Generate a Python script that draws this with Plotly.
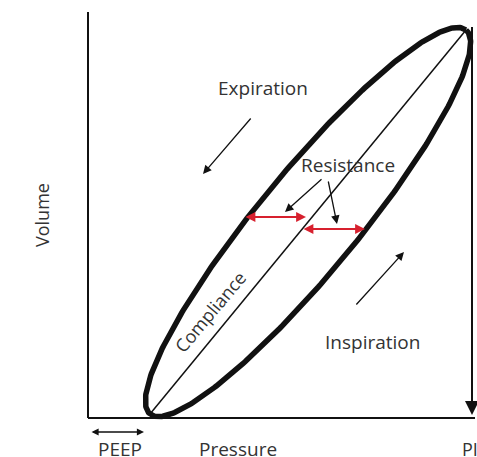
import numpy as np
import plotly.graph_objects as go

# ---- data (arbitrary pressure / volume units) ----
loop_pressure = [62, 378]      # PEEP end, PIP end of the loop
loop_volume = [4, 388]
loop_halfwidth = 50            # hysteresis (resistance) half-width of the loop

labels = ["Expiration", "Resistance", "Inspiration", "Pressure", "PEEP", "PIP"]
label_x = [175, 260, 284, 150, 32, 372]
label_y = [330, 253, 76, -31, -31, -31]

FONT = "Open Sans"
FS = 19
TXT = "#333333"
RED = "#d7202e"

# ---- loop geometry ----
p0 = np.array([loop_pressure[0], loop_volume[0]], float)
p1 = np.array([loop_pressure[1], loop_volume[1]], float)
c = (p0 + p1) / 2
d = p1 - p0
a = np.linalg.norm(d) / 2
u = d / np.linalg.norm(d)
n = np.array([-u[1], u[0]])
t = np.linspace(0, 2 * np.pi, 400)
ex = c[0] + a * np.cos(t) * u[0] + loop_halfwidth * np.sin(t) * n[0]
ey = c[1] + a * np.cos(t) * u[1] + loop_halfwidth * np.sin(t) * n[1]

fig = go.Figure()
fig.add_trace(go.Scatter(x=ex, y=ey, mode="lines",
                         line=dict(color="#111111", width=5.5), hoverinfo="skip"))
fig.add_trace(go.Scatter(x=loop_pressure, y=loop_volume, mode="lines",
                         line=dict(color="#111111", width=1.5), hoverinfo="skip"))

# axes and the PIP drop line
fig.add_shape(type="line", x0=0, y0=0, x1=0, y1=406, line=dict(color="#111111", width=2))
fig.add_shape(type="line", x0=0, y0=0, x1=387, y1=0, line=dict(color="#111111", width=2))
fig.add_shape(type="line", x0=384, y0=391, x1=384, y1=14, line=dict(color="#111111", width=2))

ann = []
for s, x, y in zip(labels, label_x, label_y):
    ann.append(dict(x=x, y=y, text=s, showarrow=False,
                    xanchor="left" if s == "PIP" else "center",
                    font=dict(family=FONT, size=FS - (1 if s == "PIP" else 0), color=TXT)))
ann.append(dict(x=-46, y=203, text="Volume", textangle=-90, showarrow=False,
                font=dict(family=FONT, size=FS - 1, color=TXT)))
ann.append(dict(x=122, y=106, text="Compliance", textangle=-50, showarrow=False,
                font=dict(family=FONT, size=FS - 1, color=TXT)))


def arrow(x0, y0, x1, y1, color="#111111", w=1.3, side="end", size=1.3):
    return dict(x=x1, y=y1, ax=x0, ay=y0, xref="x", yref="y", axref="x", ayref="y",
                text="", showarrow=True, arrowhead=2, arrowsize=size, arrowwidth=w,
                arrowcolor=color, arrowside=side, standoff=0, startstandoff=0)


ann += [
    arrow(164, 301, 115, 244),
    arrow(267, 112, 316, 166),
    arrow(235, 240, 197, 206),
    arrow(240, 238, 249, 194),
    arrow(156, 201, 218, 201, color=RED, w=1.8, side="end+start", size=1.1),
    arrow(214, 189, 277, 189, color=RED, w=1.8, side="end+start", size=1.1),
    arrow(2, -14, 56, -14, w=1.3, side="end+start", size=1.1),
    arrow(384, 40, 384, 3, w=2, size=1.4),
]

fig.update_layout(
    width=477, height=457, margin=dict(l=0, r=0, t=0, b=0),
    paper_bgcolor="white", plot_bgcolor="white", showlegend=False,
    xaxis=dict(range=[-88, 389], visible=False, fixedrange=True),
    yaxis=dict(range=[-39, 418], visible=False, fixedrange=True),
    annotations=ann,
)
fig.write_html("out.html",
               config={"displayModeBar": False, "staticPlot": True},
               post_script="document.body.style.margin='0';"
                           "document.documentElement.style.overflow='hidden';")
